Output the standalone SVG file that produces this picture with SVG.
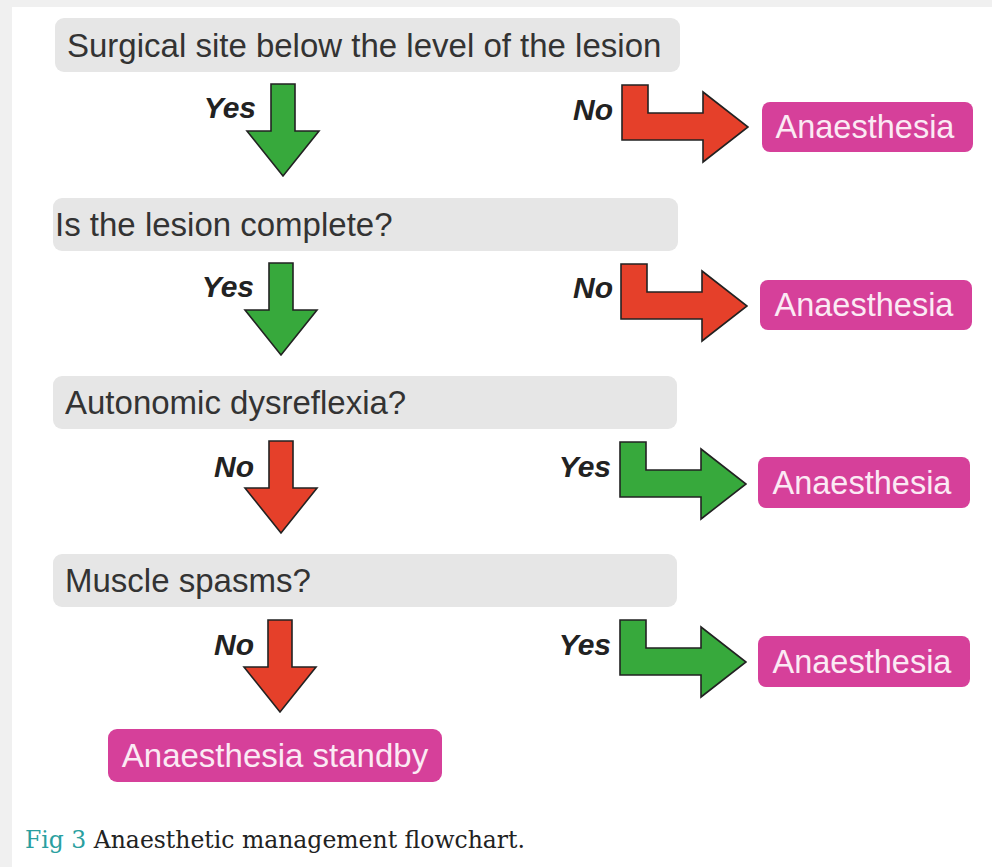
<svg xmlns="http://www.w3.org/2000/svg" width="992" height="867" viewBox="0 0 992 867">
<style>
.q{fill:#e6e6e6}
.qt{font-family:"Liberation Sans",Arial,sans-serif;font-size:33px;fill:#333}
.lab{font-family:"Liberation Sans",Arial,sans-serif;font-size:30px;font-weight:bold;font-style:italic;fill:#222}
.pk{fill:#d6409a}
.pt{font-family:"Liberation Sans",Arial,sans-serif;font-size:32.5px;fill:#fbeaf4;text-anchor:middle}
.g{fill:#37a93c;stroke:#222;stroke-width:1.6;stroke-linejoin:miter}
.r{fill:#e5402a;stroke:#222;stroke-width:1.6;stroke-linejoin:miter}
</style>
<defs>
<path id="down" d="M-12,0 L12,0 L12,47 L36,47 L0,92 L-36,47 L-12,47 Z"/>
<path id="bent" d="M0,0 L26,0 L26,28 L81,28 L81,7 L126,42 L81,77 L81,55 L0,55 Z"/>
</defs>
<rect width="992" height="867" fill="#f0f0f0"/>
<rect x="12" y="7" width="980" height="860" fill="#ffffff"/>

<g id="q1"><rect class="q" x="55" y="18" width="625" height="54" rx="9"/><text class="qt" x="67" y="57">Surgical site below the level of the lesion</text></g>
<g id="q2"><rect class="q" x="53" y="198" width="625" height="53" rx="9"/><text class="qt" x="55" y="236">Is the lesion complete?</text></g>
<g id="q3"><rect class="q" x="53" y="376" width="624" height="53" rx="9"/><text class="qt" x="65" y="414">Autonomic dysreflexia?</text></g>
<g id="q4"><rect class="q" x="53" y="554" width="624" height="53" rx="9"/><text class="qt" x="65" y="592">Muscle spasms?</text></g>

<g id="a1"><rect class="pk" x="762" y="102" width="211" height="50" rx="8"/><text class="pt" x="865" y="138">Anaesthesia</text></g>
<g id="a2"><rect class="pk" x="760" y="280" width="212" height="50" rx="8"/><text class="pt" x="864" y="316">Anaesthesia</text></g>
<g id="a3"><rect class="pk" x="758" y="457" width="212" height="51" rx="8"/><text class="pt" x="862" y="494">Anaesthesia</text></g>
<g id="a4"><rect class="pk" x="758" y="636" width="212" height="51" rx="8"/><text class="pt" x="862" y="673">Anaesthesia</text></g>
<g id="standby"><rect class="pk" x="108" y="729" width="334" height="53" rx="9"/><text class="pt" x="275" y="767" style="font-size:33px">Anaesthesia standby</text></g>

<g id="connectors">
<use href="#down" class="g" transform="translate(283,84)"/>
<use href="#down" class="g" transform="translate(281,263)"/>
<use href="#down" class="r" transform="translate(281,441)"/>
<use href="#down" class="r" transform="translate(280,620)"/>
<use href="#bent" class="r" transform="translate(622,85)"/>
<use href="#bent" class="r" transform="translate(621,264)"/>
<use href="#bent" class="g" transform="translate(620,442)"/>
<use href="#bent" class="g" transform="translate(620,620)"/>
<text class="lab" x="256" y="118" text-anchor="end">Yes</text>
<text class="lab" x="254" y="297" text-anchor="end">Yes</text>
<text class="lab" x="254" y="477" text-anchor="end">No</text>
<text class="lab" x="254" y="655" text-anchor="end">No</text>
<text class="lab" x="613" y="120" text-anchor="end">No</text>
<text class="lab" x="613" y="298" text-anchor="end">No</text>
<text class="lab" x="611" y="477" text-anchor="end">Yes</text>
<text class="lab" x="611" y="655" text-anchor="end">Yes</text>
</g>

<text x="25" y="848" font-family="'DejaVu Serif','Liberation Serif',serif" font-size="23.5" fill="#222"><tspan fill="#2a9fa0">Fig 3</tspan> Anaesthetic management flowchart.</text>
</svg>
